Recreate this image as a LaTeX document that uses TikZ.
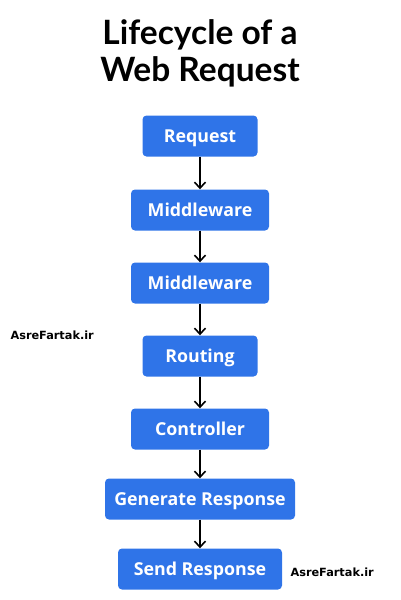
\documentclass[tikz,border=0pt]{standalone}
\usepackage{fontspec}
\setmainfont{Lato}
\newfontfamily\boxfont{Open Sans}
\newfontfamily\markfont{DejaVu Sans}
\usetikzlibrary{arrows.meta}
\definecolor{boxblue}{RGB}{47,116,232}
\tikzset{
	stage/.style={rectangle,rounded corners=4pt,fill=boxblue,text=white,font=\boxfont\fontsize{17.8}{19}\selectfont\bfseries,minimum height=41pt,inner sep=0pt,text height=12.7pt,text depth=0pt},
	flow/.style={line width=1.6pt,-{Straight Barb[length=6pt,width=11pt,line width=1.6pt]}},
	wmark/.style={font=\markfont\fontsize{11.3}{13}\selectfont\bfseries,anchor=west}
}
\begin{document}
\begin{tikzpicture}[x=1pt,y=-1pt]
	\useasboundingbox (0,0) rectangle (400,600);
	%TITLE
	\node[align=center,font=\fontsize{33.5}{37}\selectfont\bfseries] (title) at (200,53) {Lifecycle of a\\Web Request};
	
	%STAGES
	\node[stage,minimum width=115pt] (request) at (200,136) {Request};
	\node[stage,minimum width=138pt] (mw1) at (200,210) {Middleware};
	\node[stage,minimum width=138pt] (mw2) at (200,283) {Middleware};
	\node[stage,minimum width=115pt] (routing) at (200,356) {Routing};
	\node[stage,minimum width=138pt] (controller) at (200,429) {Controller};
	\node[stage,minimum width=190pt] (generate) at (200,499) {Generate Response};
	\node[stage,minimum width=164pt] (send) at (200,569) {Send Response};
	
	%ARROWS
	\draw[flow] (request)--(mw1);
	\draw[flow] (mw1)--(mw2);
	\draw[flow] (mw2)--(routing);
	\draw[flow] (routing)--(controller);
	\draw[flow] (controller)--(generate);
	\draw[flow] (generate)--(send);
	
	%WATERMARKS
	\node[wmark] (markleft) at (7,335) {AsreFartak.ir};
	\node[wmark] (markright) at (287,572) {AsreFartak.ir};
\end{tikzpicture}
\end{document}
